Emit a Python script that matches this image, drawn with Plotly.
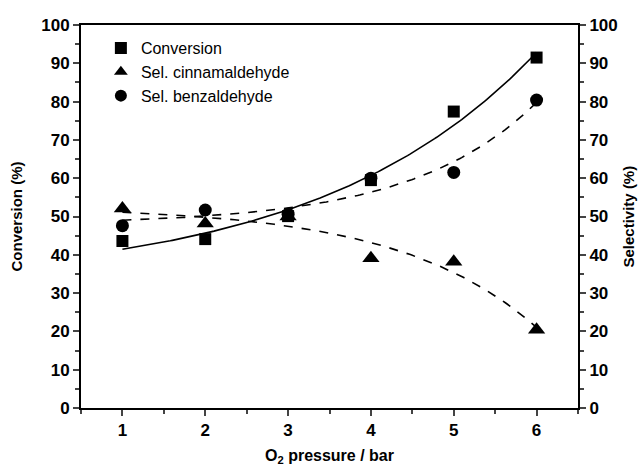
import numpy as np
import plotly.graph_objects as go

pressure = [1, 2, 3, 4, 5, 6]
conversion = [43.6, 44.1, 50.1, 59.5, 77.4, 91.5]
sel_cinnamaldehyde = [52.1, 48.2, 50.0, 39.1, 38.2, 20.4]
sel_benzaldehyde = [47.6, 51.7, 50.6, 60.0, 61.5, 80.4]

x_ticks = [1, 2, 3, 4, 5, 6]
y_ticks = [0, 10, 20, 30, 40, 50, 60, 70, 80, 90, 100]


def exp_fit(x, y):
    # y = y0 + A*exp(x/t), least squares over a scan of t
    x = np.asarray(x, float)
    y = np.asarray(y, float)
    best = None
    for t in np.linspace(0.3, 30, 3000):
        M = np.column_stack([np.ones_like(x), np.exp(x / t)])
        coef, res, *_ = np.linalg.lstsq(M, y, rcond=None)
        r = np.sum((M @ coef - y) ** 2)
        if best is None or r < best[0]:
            best = (r, t, coef)
    _, t, coef = best
    xs = np.linspace(x.min(), x.max(), 200)
    return xs, coef[0] + coef[1] * np.exp(xs / t)


FONT = "Liberation Sans, Arial, sans-serif"
fig = go.Figure()

xs, ys = exp_fit(pressure, conversion)
fig.add_trace(go.Scatter(x=xs, y=ys, mode="lines", line=dict(color="black", width=1.6),
                         showlegend=False, hoverinfo="skip"))
xs, ys = exp_fit(pressure, sel_cinnamaldehyde)
fig.add_trace(go.Scatter(x=xs, y=ys, mode="lines", line=dict(color="black", width=1.6, dash="dash"),
                         showlegend=False, hoverinfo="skip", yaxis="y2"))
xs, ys = exp_fit(pressure, sel_benzaldehyde)
fig.add_trace(go.Scatter(x=xs, y=ys, mode="lines", line=dict(color="black", width=1.6, dash="dash"),
                         showlegend=False, hoverinfo="skip", yaxis="y2"))

fig.add_trace(go.Scatter(x=pressure, y=conversion, mode="markers", name="Conversion",
                         marker=dict(symbol="square", size=12, color="black")))
fig.add_trace(go.Scatter(x=pressure, y=sel_cinnamaldehyde, mode="markers", name="Sel. cinnamaldehyde",
                         marker=dict(symbol="triangle-up", size=15, color="black"), yaxis="y2"))
fig.add_trace(go.Scatter(x=pressure, y=sel_benzaldehyde, mode="markers", name="Sel. benzaldehyde",
                         marker=dict(symbol="circle", size=13, color="black"), yaxis="y2"))

tickfont = dict(family=FONT, size=17, color="black", weight="bold")
titlefont = dict(family=FONT, size=15, color="black", weight="bold")

L, R, T, B = 81, 65, 25, 60
plot_w = 643 - L - R

fig.update_layout(
    width=643, height=468,
    margin=dict(l=L, r=R, t=T, b=B, autoexpand=False),
    plot_bgcolor="white", paper_bgcolor="white",
    font=dict(family=FONT, color="black"),
    legend=dict(x=0.04, y=0.984, xanchor="left", yanchor="top",
                font=dict(family=FONT, size=16, color="black"),
                bgcolor="rgba(0,0,0,0)", tracegroupgap=0, itemsizing="constant"),
    xaxis=dict(range=[0.5, 6.5], tickvals=x_ticks, ticks="outside", ticklen=6, tickwidth=2,
               showline=True, linewidth=2, linecolor="black", mirror=True, showgrid=False,
               zeroline=False, tickfont=tickfont,
               minor=dict(ticks="outside", ticklen=4, tickwidth=2, dtick=0.5, tick0=0.5),
               title=dict(text="O<sub>2</sub> pressure / bar",
                          font=dict(family=FONT, size=16, color="black", weight="bold"), standoff=10)),
    yaxis=dict(range=[0, 100], tickvals=y_ticks, ticks="outside", ticklen=6, tickwidth=2,
               showline=True, linewidth=2, linecolor="black", showgrid=False, zeroline=False,
               tickfont=tickfont,
               minor=dict(ticks="outside", ticklen=4, tickwidth=2, dtick=5, tick0=0)),
    yaxis2=dict(range=[0, 100], tickvals=y_ticks, ticks="outside", ticklen=6, tickwidth=2,
                showline=True, linewidth=2, linecolor="black", showgrid=False, zeroline=False,
                overlaying="y", side="right", tickfont=tickfont,
                minor=dict(ticks="outside", ticklen=4, tickwidth=2, dtick=5, tick0=0)),
    annotations=[
        dict(text="Conversion (%)", xref="paper", yref="paper", x=(16 - L) / plot_w, y=0.5,
             textangle=-90, showarrow=False, font=titlefont, xanchor="center", yanchor="middle"),
        dict(text="Selectivity (%)", xref="paper", yref="paper", x=(628 - L) / plot_w, y=0.5,
             textangle=-90, showarrow=False, font=titlefont, xanchor="center", yanchor="middle"),
    ],
)

fig.write_html("out.html", config={"displayModeBar": False},
               post_script="document.body.style.margin='0';")
